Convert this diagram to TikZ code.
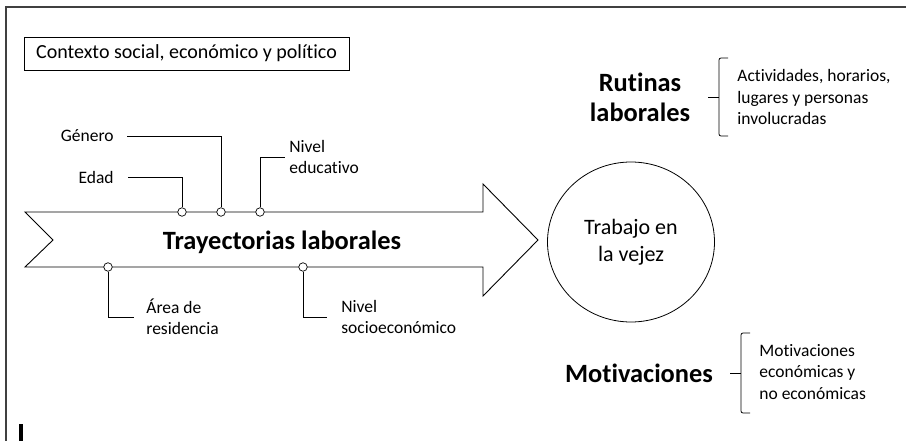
\documentclass[tikz,border=0pt]{standalone}
\usepackage{fontspec}
\setmainfont{Carlito}[Ligatures={NoCommon,NoContextual}]
\usetikzlibrary{shapes.geometric}
\begin{document}
\begin{tikzpicture}[x=1pt,y=-1pt,line width=0.8pt,
  pt/.style={draw,circle,fill=white,inner sep=0pt,minimum size=8.5pt,line width=0.7pt},
  lbl/.style={font=\fontsize{17.5}{21.5}\selectfont,inner sep=0pt,align=left},
  big/.style={font=\fontsize{26.4}{30}\selectfont\bfseries,inner sep=0pt,align=center}]
  \useasboundingbox (0,0) rectangle (906,441);
  \draw[line width=1.2pt,black!75] (6,441) -- (6,7) -- (906,7);
  \fill (19,424) rectangle (23,441);

  \node[draw,minimum width=325pt,minimum height=33pt,inner sep=0pt,font=\fontsize{20}{24}\selectfont] (K) at (186.5,53.5) {Contexto social, económico y político};

  \draw[line width=0.9pt] (25,212) -- (483,212) -- (483,184) -- (538,240) -- (483,296) -- (483,267) -- (25,267) -- (53,240) -- cycle;
  \node[big] (T) at (282,242) {Trayectorias laborales};
  \node[draw,ellipse,minimum width=167pt,minimum height=160pt,font=\fontsize{22}{27}\selectfont,align=center] (C) at (631,242) {Trabajo en\\la vejez};

  \node[pt] (P1) at (182,212) {};
  \node[pt] (P2) at (221,212) {};
  \node[pt] (P3) at (260,212) {};
  \node[pt] (P4) at (108,267) {};
  \node[pt] (P5) at (303,267) {};

  \node[lbl,anchor=east] (L1) at (114,177) {Edad};
  \node[lbl,anchor=east] (L2) at (114,136) {Género};
  \node[lbl,anchor=west] (L3) at (289,157) {Nivel\\educativo};
  \node[lbl,anchor=west] (L4) at (146,317) {Área de\\residencia};
  \node[lbl,anchor=west] (L5) at (341,317) {Nivel\\socioeconómico};

  \draw ([xshift=14pt]L1.east) -| (P1);
  \draw ([xshift=13pt]L2.east) -| (P2);
  \draw (P3) |- ([xshift=-4pt]L3.west);
  \draw (P4) |- ([xshift=-12pt]L4.west);
  \draw (P5) |- ([xshift=-14pt]L5.west);

  \node[big] (R) at (640,97) {Rutinas\\laborales};
  \node[lbl,anchor=west] (D1) at (737,97) {Actividades, horarios,\\lugares y personas\\involucradas};
  \draw[rounded corners=2pt] (728,58) -| (719,136) -- (728,136);
  \draw (708,97) -- (719,97);

  \node[big] (M) at (639,373) {Motivaciones};
  \node[lbl,anchor=west] (D2) at (759,372) {Motivaciones\\económicas y\\no económicas};
  \draw[rounded corners=2pt] (750,333) -| (741,413) -- (750,413);
  \draw (730,373) -- (741,373);
\end{tikzpicture}
\end{document}
